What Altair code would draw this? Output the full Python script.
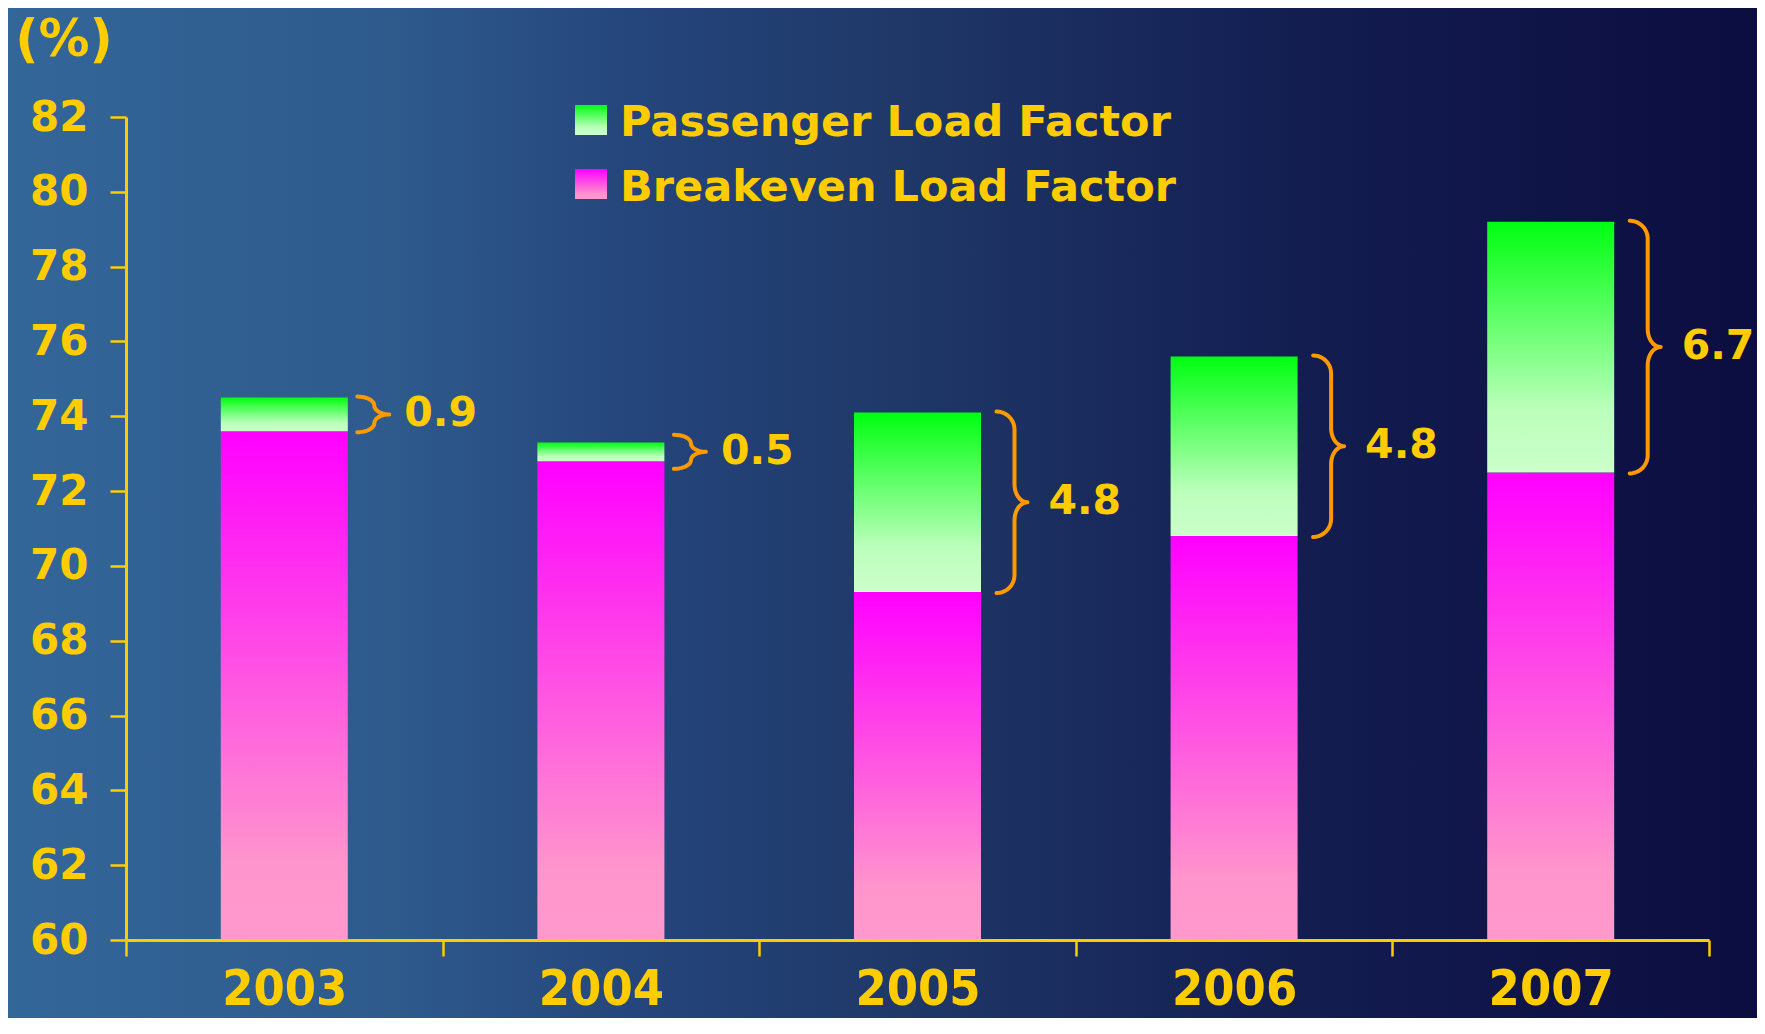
import math
import altair as alt
import pandas as pd

# ---------------- data ----------------
years = [2003, 2004, 2005, 2006, 2007]
passenger = [74.5, 73.3, 74.1, 75.6, 79.2]
breakeven = [73.6, 72.8, 69.3, 70.8, 72.5]
spread_labels = ["0.9", "0.5", "4.8", "4.8", "6.7"]
series_names = ["Passenger Load Factor", "Breakeven Load Factor"]
y_ticks = list(range(60, 83, 2))
x_ticks = [2002.5, 2003.5, 2004.5, 2005.5, 2006.5, 2007.5]
unit_label = "(%)"

# ---------------- layout ----------------
W, H = 1583, 823
PAD = {"left": 118, "top": 109, "right": 48, "bottom": 78}
X_DOM = [2002.5, 2007.5]
Y_DOM = [60, 82]
PXX = W / (X_DOM[1] - X_DOM[0])   # px per year
PXY = H / (Y_DOM[1] - Y_DOM[0])   # px per % point

GOLD = "#FFCC00"
ORANGE = "#FF9900"
FONT = "DejaVu Sans"
NARROW = "Liberation Sans Narrow, DejaVu Sans Condensed, DejaVu Sans, sans-serif"

df = pd.DataFrame({"year": years, "passenger": passenger, "breakeven": breakeven,
                   "label": spread_labels})
df["base"] = Y_DOM[0]
df["mid"] = (df["passenger"] + df["breakeven"]) / 2

# brace geometry (decoration derived from each bar's spread)
brace_rows = []
label_x = []
for yr, p, b in zip(years, passenger, breakeven):
    half = max((p - b) / 2 * PXY + 1, 17)
    big = (p - b) > 2
    x0 = 79 if big else 73
    rx = 18 if big else 17
    rx2 = 13 if big else 15
    ry = min(18, half / 2)
    xv = x0 + rx
    mid = (p + b) / 2
    pts = []
    n = 10
    for i in range(n + 1):
        t = math.radians(-90 + 90 * i / n)
        pts.append((x0 + rx * math.cos(t), -half + ry + ry * math.sin(t)))
    for i in range(n + 1):
        t = math.radians(180 - 90 * i / n)
        pts.append((xv + rx2 + rx2 * math.cos(t), -ry + ry * math.sin(t)))
    for i in range(n + 1):
        t = math.radians(-90 - 90 * i / n)
        pts.append((xv + rx2 + rx2 * math.cos(t), ry + ry * math.sin(t)))
    for i in range(n + 1):
        t = math.radians(90 * i / n)
        pts.append((x0 + rx * math.cos(t), half - ry + ry * math.sin(t)))
    for k, (px, py) in enumerate(pts):
        brace_rows.append({"year": yr, "k": k, "bx": yr + px / PXX, "by": mid - py / PXY})
    label_x.append(yr + ((xv + rx2 + (21 if big else 15)) / PXX))
df["lx"] = label_x
braces = pd.DataFrame(brace_rows)

# ---------------- styles ----------------
def lin(stops, horizontal=False):
    return alt.Gradient(
        gradient="linear",
        stops=[alt.GradientStop(color=c, offset=o) for o, c in stops],
        x1=0, x2=1 if horizontal else 0, y1=0, y2=0 if horizontal else 1,
    )

pass_grad = lin([(0, "#00FF11"), (0.75, "#BBFFBB"), (1, "#CCFFCC")])
be_grad = lin([(0, "#FF00FF"), (0.85, "#FF95CC"), (1, "#FF99CC")])
bg_grad = lin([(0, "#336699"), (0.22, "#2E5A8C"), (0.37, "#24447A"), (0.51, "#1F3868"),
               (0.74, "#131D50"), (0.96, "#0D0F42"), (1, "#0C0E40")], horizontal=True)

x_axis = alt.Axis(
    values=x_ticks, title=None, grid=False, zindex=2,
    labelExpr="datum.value < 2007 ? format(datum.value + 0.5, 'd') : ''",
    labelOffset=PXX / 2, labelFlush=False, labelOverlap=False, labelBound=False,
    domainColor=GOLD, domainWidth=3, tickColor=GOLD, tickWidth=2.5, tickSize=16,
    labelColor=GOLD, labelFont=NARROW, labelFontWeight="bold",
    labelFontSize=50, labelPadding=8, labelBaseline="top",
)
y_axis = alt.Axis(
    values=y_ticks, title=None, grid=False, zindex=2,
    domainColor=GOLD, domainWidth=3, tickColor=GOLD, tickWidth=2.5, tickSize=16,
    labelColor=GOLD, labelFont=FONT, labelFontWeight="bold", labelFontSize=42,
    labelPadding=22,
)
xs = alt.Scale(domain=X_DOM, nice=False, zero=False, padding=0)
ys = alt.Scale(domain=Y_DOM, nice=False, zero=False, padding=0)

base = alt.Chart(df)

background = alt.Chart(alt.Data(values=[{"a": 1}])).mark_rect(color=bg_grad).encode(
    x=alt.value(-PAD["left"]), x2=alt.value(W + PAD["right"]),
    y=alt.value(-PAD["top"]), y2=alt.value(H + PAD["bottom"] + 10),
)

be_bars = base.mark_bar(color=be_grad, width=127).encode(
    x=alt.X("year:Q", scale=xs, axis=x_axis),
    y=alt.Y("base:Q", scale=ys, axis=y_axis),
    y2="breakeven:Q",
)
pass_bars = base.mark_bar(color=pass_grad, width=127).encode(
    x=alt.X("year:Q", scale=xs, axis=x_axis),
    y=alt.Y("breakeven:Q", scale=ys, axis=y_axis),
    y2="passenger:Q",
)
brace_lines = alt.Chart(braces).mark_line(color=ORANGE, strokeWidth=4, strokeCap="round",
                                          strokeJoin="round").encode(
    x=alt.X("bx:Q", scale=xs, axis=x_axis),
    y=alt.Y("by:Q", scale=ys, axis=y_axis),
    detail="year:N",
    order="k:Q",
)
spread_text = base.mark_text(align="left", baseline="middle", font=FONT, fontWeight="bold",
                             fontSize=41, color=GOLD).encode(
    x=alt.X("lx:Q", scale=xs, axis=x_axis),
    y=alt.Y("mid:Q", scale=ys, axis=y_axis),
    text="label:N",
)

legend_rects = []
for i, g in enumerate([pass_grad, be_grad]):
    legend_rects.append(
        alt.Chart(alt.Data(values=[{"a": 1}])).mark_rect(color=g).encode(
            x=alt.value(449), x2=alt.value(481),
            y=alt.value(-12 + 64 * i), y2=alt.value(18 + 64 * i),
        )
    )
legend_text = []
for i, name in enumerate(series_names):
    legend_text.append(
        alt.Chart(alt.Data(values=[{"t": name}])).mark_text(
            align="left", baseline="alphabetic", font=FONT, fontWeight="bold",
            fontSize=43, color=GOLD,
        ).encode(x=alt.value(494), y=alt.value(19 + 65 * i), text="t:N")
    )

unit_text = alt.Chart(alt.Data(values=[{"t": unit_label}])).mark_text(
    align="center", baseline="alphabetic", font=FONT, fontWeight="bold",
    fontSize=51, color=GOLD,
).encode(x=alt.value(-62), y=alt.value(-61), text="t:N")

chart = alt.layer(
    background, be_bars, pass_bars, brace_lines, spread_text,
    *legend_rects, *legend_text, unit_text,
).properties(
    width=W, height=H, padding=PAD,
    autosize=alt.AutoSizeParams(type="none"),
    background="#1E3A6A",
).configure_view(stroke=None)

chart.save("out.html", embed_options={"renderer": "svg", "actions": False})
